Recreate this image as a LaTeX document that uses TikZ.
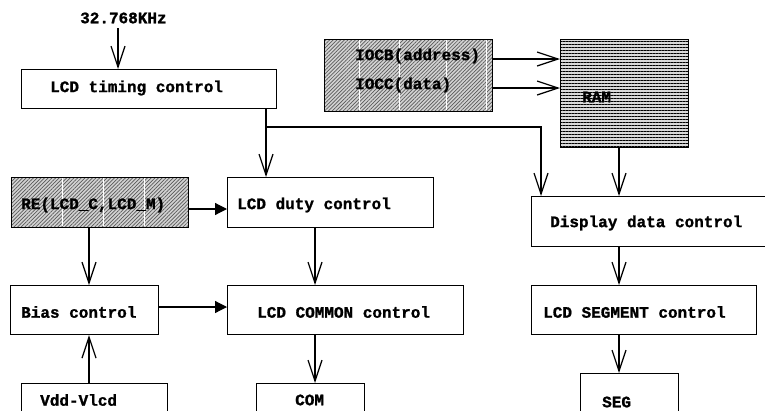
\documentclass[tikz,border=0pt]{standalone}
\usepackage{fontspec}
\setmonofont{Liberation Mono}[BoldFeatures={FakeBold=1.2}]
\usetikzlibrary{arrows.meta,patterns.meta}
\tikzset{
  box/.style={draw, line width=1.2pt, rectangle, anchor=north west, inner sep=0pt},
  hatchbox/.style={box, preaction={fill=gray!35}, pattern={Lines[angle=45,distance=2.6pt,line width=0.7pt]}, pattern color=black!65},
  rambox/.style={box, preaction={fill=gray!30}, pattern={Lines[angle=0,distance=3pt,line width=0.9pt]}, pattern color=black},
  lbl/.style={font=\ttfamily\bfseries\fontsize{16}{16}\selectfont, anchor=west, inner sep=0pt},
  conn/.style={line width=1.2pt},
  vopen/.style={conn, -{Straight Barb[length=21pt,width=14pt,line width=1.2pt]}},
  tri/.style={conn, -{Triangle[length=12pt,width=12pt]}},
  gap/.style={white, line width=0.6pt},
}
\begin{document}
\begin{tikzpicture}[x=1pt,y=-1pt]
\useasboundingbox (0,0) rectangle (765,410);
\clip (0,0) rectangle (765,410);
% boxes
\node[box, minimum width=255pt, minimum height=39pt] (timing) at (21,69) {};
\node[hatchbox, minimum width=168pt, minimum height=72pt] (ioc) at (324,39) {};
\node[rambox, minimum width=128pt, minimum height=108pt] (ram) at (560,39) {};
\node[hatchbox, minimum width=177pt, minimum height=50pt] (re) at (11,177) {};
\node[box, minimum width=206pt, minimum height=50pt] (duty) at (227,177) {};
\node[box, minimum width=250pt, minimum height=50pt] (disp) at (531,196) {};
\node[box, minimum width=148pt, minimum height=49pt] (bias) at (10,285) {};
\node[box, minimum width=236pt, minimum height=49pt] (common) at (227,285) {};
\node[box, minimum width=225pt, minimum height=49pt] (seg) at (531,285) {};
\node[box, minimum width=146pt, minimum height=40pt] (vdd) at (21,383) {};
\node[box, minimum width=108pt, minimum height=40pt] (com) at (256,383) {};
\node[box, minimum width=98pt, minimum height=50pt] (segout) at (580,373) {};
% white gaps in hatching
\foreach \x in {359,399,446,486} \draw[gap] (\x,40) -- (\x,110);
\foreach \x in {62,103,144} \draw[gap] (\x,178) -- (\x,226);
% labels
\node[lbl] (clk) at (80,18) {32.768KHz};
\node[lbl] (ttiming) at (50,88) {LCD timing control};
\node[lbl] (tiocb) at (355,56) {IOCB(address)};
\node[lbl] (tiocc) at (355,85) {IOCC(data)};
\node[lbl] (tram) at (582,97) {RAM};
\node[lbl] (tre) at (21,205) {RE(LCD\_C,LCD\_M)};
\node[lbl] (tduty) at (237,205) {LCD duty control};
\node[lbl] (tdisp) at (550,223) {Display data control};
\node[lbl] (tbias) at (21,312) {Bias control};
\node[lbl] (tcommon) at (257,312) {LCD COMMON control};
\node[lbl] (tseg) at (543,312) {LCD SEGMENT control};
\node[lbl] (tvdd) at (40,400) {Vdd-Vlcd};
\node[lbl] (tcom) at (295,400) {COM};
\node[lbl] (tsegout) at (602,402) {SEG};
% helper coordinates
\coordinate (c1) at (118,28);
\coordinate (xa) at (266,0);
\coordinate (j) at (266,127);
\coordinate (xb) at (541,0);
\coordinate (xc) at (619,0);
\coordinate (xd) at (89,0);
\coordinate (xe) at (315,0);
\coordinate (ya) at (0,59);
\coordinate (yb) at (0,88);
\coordinate (yc) at (0,209);
\coordinate (yd) at (0,307);
% connectors
\draw[vopen] (c1) -- (c1 |- timing.north);
\draw[vopen] (timing.south -| xa) -- (duty.north -| xa);
\draw[vopen] (j) -| (xb |- disp.north);
\draw[vopen] (ioc.east |- ya) -- (ram.west |- ya);
\draw[vopen] (ioc.east |- yb) -- (ram.west |- yb);
\draw[vopen] (ram.south -| xc) -- (disp.north -| xc);
\draw[vopen] (disp.south -| xc) -- (seg.north -| xc);
\draw[vopen] (seg.south -| xc) -- (segout.north -| xc);
\draw[tri] (re.east |- yc) -- (duty.west |- yc);
\draw[vopen] (re.south -| xd) -- (bias.north -| xd);
\draw[vopen] (vdd.north -| xd) -- (bias.south -| xd);
\draw[tri] (bias.east |- yd) -- (common.west |- yd);
\draw[vopen] (duty.south -| xe) -- (common.north -| xe);
\draw[vopen] (common.south -| xe) -- (com.north -| xe);
\end{tikzpicture}
\end{document}
